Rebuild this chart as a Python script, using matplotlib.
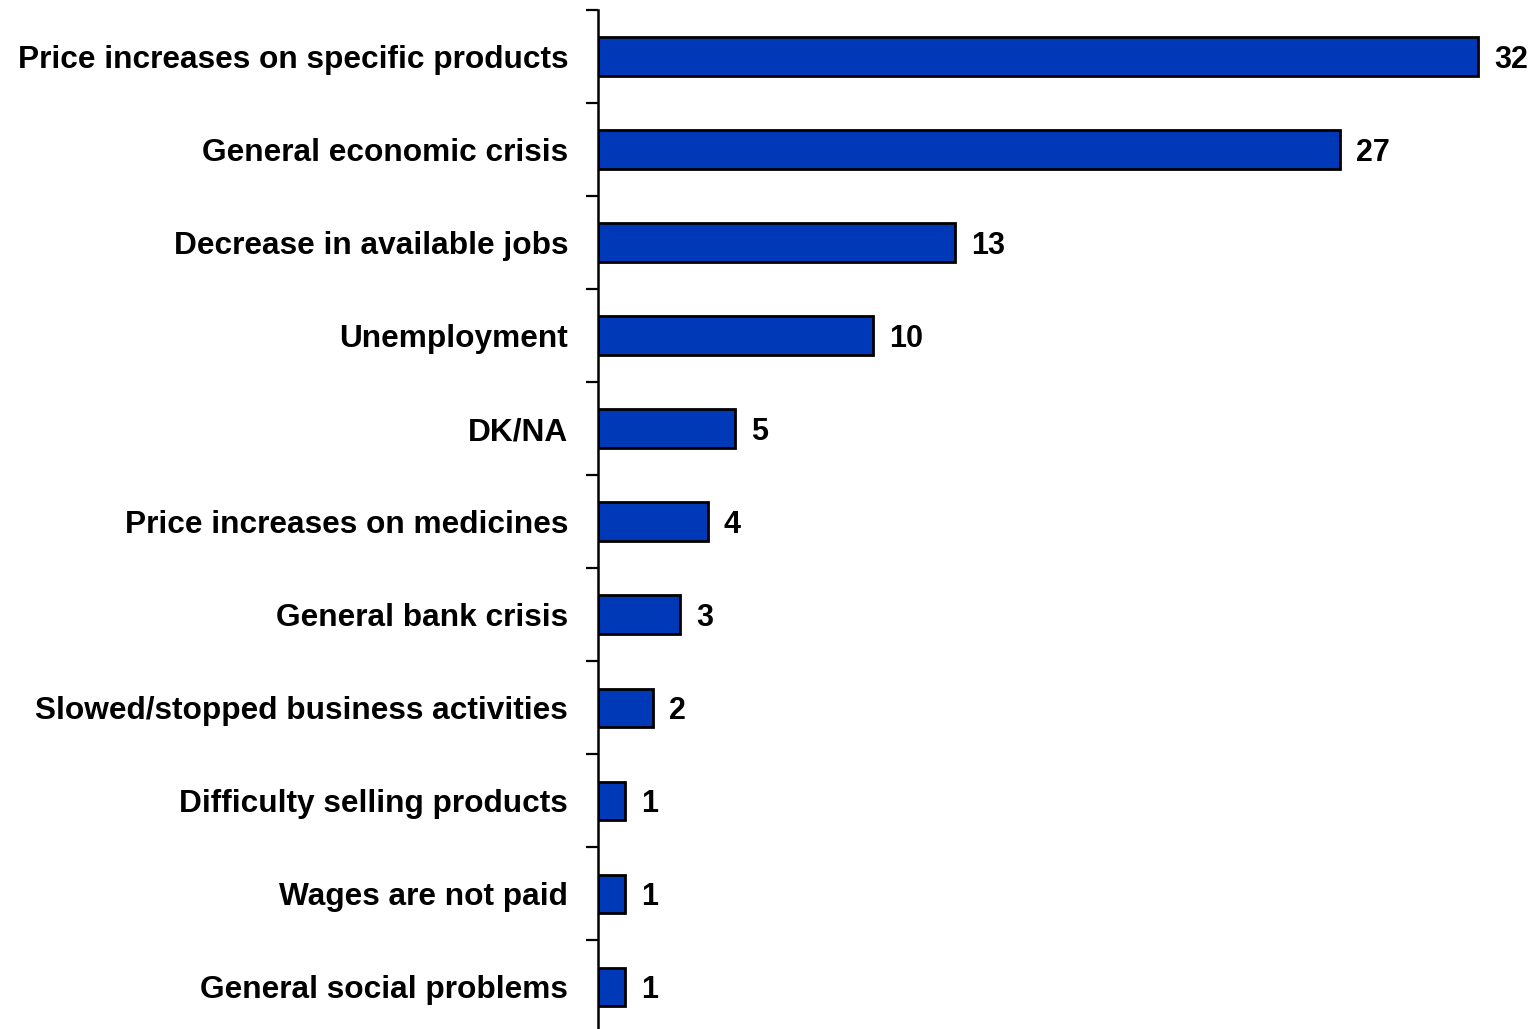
import matplotlib.pyplot as plt
import numpy as np

categories = [
    'Price increases on specific products',
    'General economic crisis',
    'Decrease in available jobs',
    'Unemployment',
    'DK/NA',
    'Price increases on medicines',
    'General bank crisis',
    'Slowed/stopped business activities',
    'Difficulty selling products',
    'Wages are not paid',
    'General social problems',
]
values = [32, 27, 13, 10, 5, 4, 3, 2, 1, 1, 1]

plt.rcParams['font.family'] = ['Liberation Sans', 'DejaVu Sans']

fig = plt.figure(figsize=(15.33, 10.29), dpi=100)
ax = fig.add_axes([0.390, -0.004, 0.610, 0.9943])

y = np.arange(len(categories))
ax.barh(y, values, height=0.41, color='#0039B8', edgecolor='black', linewidth=2)

for yi, v in zip(y, values):
    ax.text(v + 0.58, yi, str(v), va='center_baseline', ha='left', fontsize=22, fontweight='bold')

ax.set_xlim(0, 34)
ax.set_ylim(len(categories) - 0.5, -0.5)

ax.set_yticks(y)
ax.set_yticklabels(categories, fontsize=22.8, fontweight='bold')
ax.tick_params(axis='y', which='major', length=0, pad=21.5)
ax.set_yticks(np.arange(-0.5, len(categories), 1), minor=True)
ax.tick_params(axis='y', which='minor', length=9, width=1.6, direction='out')

ax.set_xticks([])
for s in ['top', 'right', 'bottom']:
    ax.spines[s].set_visible(False)
ax.spines['left'].set_linewidth(1.8)

fig.savefig('out.png', dpi=100)
